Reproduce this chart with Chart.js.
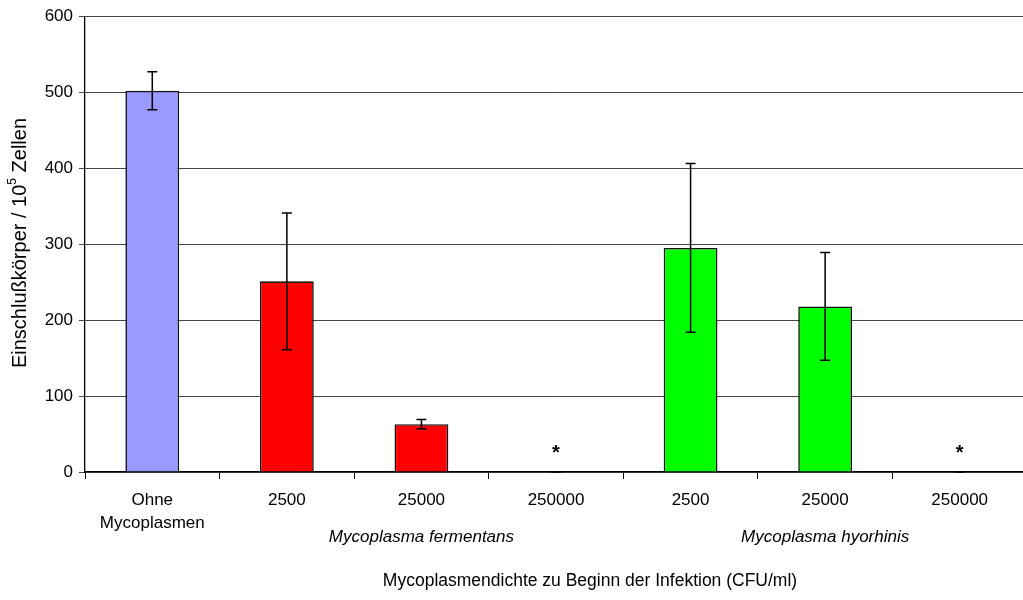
<!DOCTYPE html>
<html>
<head>
<meta charset="utf-8">
<script src="https://cdn.jsdelivr.net/npm/chart.js@4"></script>
<style>
  html, body { margin:0; padding:0; background:#fff; overflow:hidden; width:1023px; height:600px; }
  canvas { display:block; }
</style>
</head>
<body>
<canvas id="chart" width="1032" height="600"></canvas>
<script>
// chart data
const categories = [['Ohne', 'Mycoplasmen'], '2500', '25000', '250000', '2500', '25000', '250000'];
const values = [502, 251, 63, 0, 295, 218, 0];
const errors = [25, 90, 6, 0, 111, 71, 0];
const markers = ['', '', '', '*', '', '', '*'];
const barColors = ['#9999FF', '#FF0000', '#FF0000', '#FF0000', '#00FF00', '#00FF00', '#00FF00'];
const groupLabels = ['Mycoplasma fermentans', 'Mycoplasma hyorhinis'];
const groupSpans = [[1, 3], [4, 6]];
const yTicks = [0, 100, 200, 300, 400, 500, 600];
const xTitle = 'Mycoplasmendichte zu Beginn der Infektion (CFU/ml)';

const FONT = '"Liberation Sans", Arial, sans-serif';

// error bars + asterisks + group labels + titles
const extras = {
  id: 'extras',
  afterDatasetsDraw(chart){
    const c = chart.ctx, y = chart.scales.y;
    const meta = chart.getDatasetMeta(0);
    c.save();
    c.strokeStyle = '#000'; c.lineWidth = 1.5;
    values.forEach((v, i) => {
      const px = meta.data[i].x;
      const t = y.getPixelForValue(v + errors[i]), b = y.getPixelForValue(Math.max(0, v - errors[i]));
      c.beginPath();
      c.moveTo(px, t); c.lineTo(px, b);
      c.moveTo(px - 5, t); c.lineTo(px + 5, t);
      c.moveTo(px - 5, b); c.lineTo(px + 5, b);
      c.stroke();
    });
    c.fillStyle = '#000';
    c.textAlign = 'center'; c.textBaseline = 'middle';
    c.font = 'bold 20px ' + FONT;
    markers.forEach((m, i) => { if (m) c.fillText(m, meta.data[i].x, y.getPixelForValue(0) - 19); });
    c.restore();
  },
  afterDraw(chart){
    const c = chart.ctx, x = chart.scales.x;
    c.save();
    c.fillStyle = '#000';
    c.textAlign = 'center'; c.textBaseline = 'middle';
    c.font = 'italic 17px ' + FONT;
    groupLabels.forEach((g, k) => {
      const cx = (x.getPixelForValue(groupSpans[k][0]) + x.getPixelForValue(groupSpans[k][1])) / 2;
      c.fillText(g, cx, 537);
    });
    c.font = '17.5px ' + FONT;
    c.fillText(xTitle, 590, 581);

    // y title with superscript
    c.translate(20, 243);
    c.rotate(-Math.PI / 2);
    const a = 'Einschlußkörper / 10', s = '5', b = ' Zellen';
    const big = '20px ' + FONT, small = '12px ' + FONT;
    c.font = big;
    const wa = c.measureText(a).width, wb = c.measureText(b).width;
    c.font = small;
    const ws = c.measureText(s).width;
    let px = -(wa + ws + wb) / 2;
    c.textAlign = 'left';
    c.font = big; c.fillText(a, px, 0); px += wa;
    c.font = small; c.fillText(s, px, -7); px += ws;
    c.font = big; c.fillText(b, px, 0);
    c.restore();
  }
};

new Chart(document.getElementById('chart'), {
  type: 'bar',
  data: {
    labels: categories,
    datasets: [{
      data: values,
      backgroundColor: barColors,
      borderColor: '#111',
      borderWidth: 1.6,
      categoryPercentage: 1,
      barPercentage: 0.4
    }]
  },
  options: {
    responsive: false,
    animation: false,
    layout: { padding: { left: 0, top: 15, right: 5, bottom: 0 } },
    plugins: { legend: { display: false }, tooltip: { enabled: false } },
    scales: {
      x: {
        afterFit(s){ s.height = 128; },
        grid: { drawOnChartArea: false, drawTicks: true, tickLength: 7, color: '#000', offset: true },
        border: { color: '#000', width: 1.3 },
        ticks: { color: '#000', font: { family: FONT, size: 17, lineHeight: 1.35 }, padding: 10, maxRotation: 0, autoSkip: false }
      },
      y: {
        min: 0, max: 600,
        afterFit(s){ s.width = 85; },
        afterBuildTicks(s){ s.ticks = yTicks.map(v => ({ value: v })); },
        grid: { color: '#444', lineWidth: 1, tickLength: 6 },
        border: { color: '#000', width: 1.3 },
        ticks: { color: '#000', font: { family: FONT, size: 17 }, padding: 6 }
      }
    }
  },
  plugins: [extras]
});
</script>
</body>
</html>
